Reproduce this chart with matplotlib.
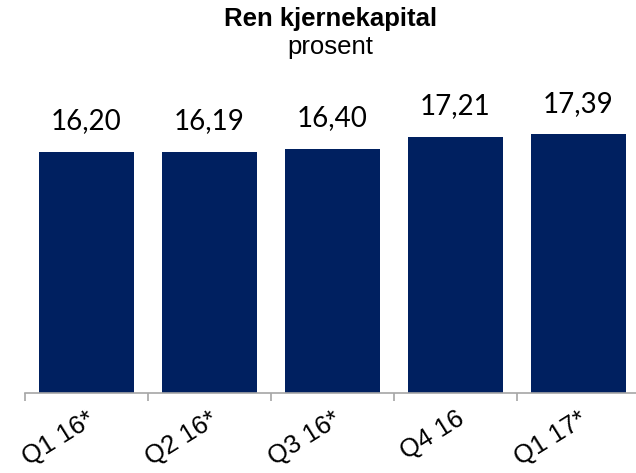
import matplotlib
matplotlib.use("Agg")
import matplotlib.pyplot as plt
import numpy as np

# data
quarters = ["Q1 16*", "Q2 16*", "Q3 16*", "Q4 16", "Q1 17*"]
values = [16.20, 16.19, 16.40, 17.21, 17.39]
value_labels = ["16,20", "16,19", "16,40", "17,21", "17,39"]

bar_color = "#002060"
axis_grey = "#a6a6a6"

fig = plt.figure(figsize=(6.36, 4.73), dpi=100)
ax = fig.add_axes([25 / 636, 80 / 473, 615 / 636, 268.2 / 473])

x = np.arange(len(quarters))
bars = ax.bar(x, values, width=0.765, color=bar_color)

for rect, lab in zip(bars, value_labels):
    ax.annotate(lab, (rect.get_x() + rect.get_width() / 2, rect.get_height()),
                xytext=(0, 16), textcoords="offset points",
                ha="center", va="baseline", fontsize=20, family="Lato")

ax.set_xlim(-0.5, len(quarters) - 0.5)
ax.set_ylim(0, 18)

# tick marks sit between categories, labels at bar centres
ax.set_xticks(np.arange(-0.5, len(quarters)), minor=True)
ax.set_xticks(x)
ax.set_xticklabels(quarters, rotation=32, ha="right", va="top",
                   rotation_mode="anchor", fontsize=18.5, family="Liberation Sans")
ax.tick_params(axis="x", which="major", length=0, pad=10)
ax.tick_params(axis="x", which="minor", length=5.5, width=1.2, color=axis_grey)
ax.set_yticks([])

for s in ["top", "right", "left"]:
    ax.spines[s].set_visible(False)
ax.spines["bottom"].set_color(axis_grey)
ax.spines["bottom"].set_linewidth(1.2)

fig.text(0.52, 1 - 26 / 473, "Ren kjernekapital", ha="center", va="baseline",
         fontsize=18.5, fontweight="bold", family="Liberation Sans")
fig.text(0.52, 1 - 54 / 473, "prosent", ha="center", va="baseline",
         fontsize=18.5, family="Liberation Sans")

fig.savefig("out.png", dpi=100)
